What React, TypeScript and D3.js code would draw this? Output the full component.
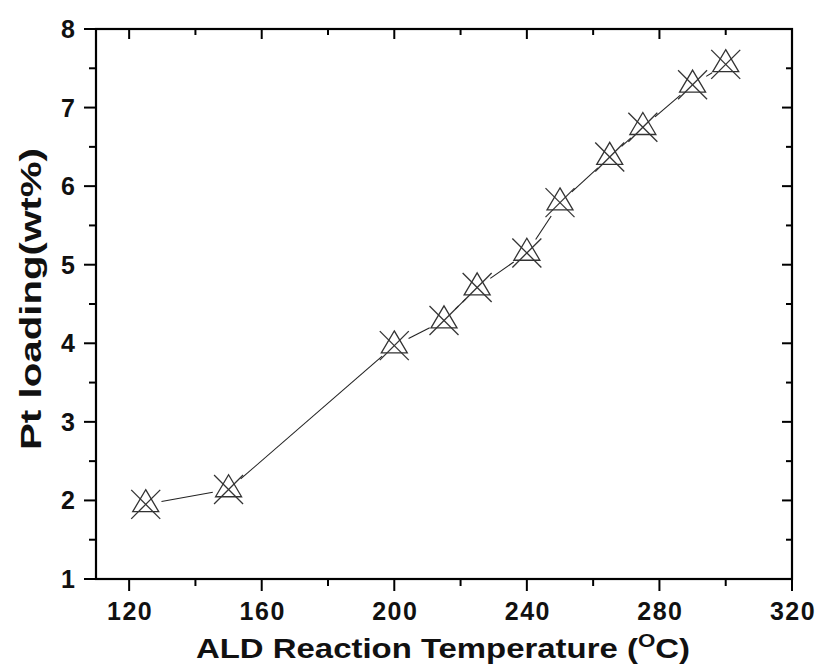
import React from "react";
import * as d3 from "d3";

const temperatures = [125, 150, 200, 215, 225, 240, 250, 265, 275, 290, 300];
const ptLoading = [1.95, 2.14, 3.97, 4.29, 4.71, 5.15, 5.79, 6.37, 6.75, 7.29, 7.55];
const xMajorTicks = [120, 160, 200, 240, 280, 320];
const xMinorTicks = [140, 180, 220, 260, 300];
const yMajorTicks = [1, 2, 3, 4, 5, 6, 7, 8];
const yMinorTicks = [1.5, 2.5, 3.5, 4.5, 5.5, 6.5, 7.5];

const W = 822;
const H = 671;
const L = 96;
const R = 792;
const T = 29;
const B = 579;

const FONT = "'Liberation Sans', Arial, Helvetica, sans-serif";

export default function App() {
  const x = d3.scaleLinear().domain([110, 320]).range([L, R]);
  const y = d3.scaleLinear().domain([1, 8]).range([B, T]);
  const pts = temperatures.map((t, i) => [x(t), y(ptLoading[i])] as [number, number]);

  const gap = 16;
  const segs = pts.slice(1).map((p, i) => {
    const a = pts[i];
    const dx = p[0] - a[0];
    const dy = p[1] - a[1];
    const len = Math.hypot(dx, dy);
    const ux = dx / len;
    const uy = dy / len;
    return [a[0] + ux * gap, a[1] + uy * gap, p[0] - ux * gap, p[1] - uy * gap];
  });

  const tri = d3.line()([
    [0, -14.7],
    [13, 7.3],
    [-13, 7.3],
  ]) + "Z";

  return (
    <svg
      width={W}
      height={H}
      style={{ position: "absolute", left: 0, top: 0, background: "#fff" }}
    >
      <rect x={0} y={0} width={W} height={H} fill="#fff" />
      {segs.map((s, i) => (
        <line key={"s" + i} x1={s[0]} y1={s[1]} x2={s[2]} y2={s[3]} stroke="#222" strokeWidth={1.1} />
      ))}
      {pts.map((p, i) => (
        <g key={"m" + i} transform={`translate(${p[0]},${p[1]})`} fill="none" stroke="#333" strokeWidth={1.3}>
          <path d={tri} />
          <line x1={-14.5} y1={-14.5} x2={14.5} y2={14.5} />
          <line x1={14.5} y1={-14.5} x2={-14.5} y2={14.5} />
        </g>
      ))}
      <rect x={L} y={T} width={R - L} height={B - T} fill="none" stroke="#000" strokeWidth={2.2} />
      {xMajorTicks.map((v) => (
        <g key={"xm" + v}>
          <line x1={x(v)} x2={x(v)} y1={B} y2={B + 12} stroke="#000" strokeWidth={2} />
          <line x1={x(v)} x2={x(v)} y1={T} y2={T + 10} stroke="#000" strokeWidth={2} />
          <text
            x={x(v) + 1}
            y={620}
            textAnchor="middle"
            fontFamily={FONT}
            fontWeight="bold"
            fontSize={25}
            letterSpacing={1.5}
            fill="#111"
          >
            {v}
          </text>
        </g>
      ))}
      {xMinorTicks.map((v) => (
        <g key={"xn" + v}>
          <line x1={x(v)} x2={x(v)} y1={B} y2={B + 7} stroke="#000" strokeWidth={2} />
          <line x1={x(v)} x2={x(v)} y1={T} y2={T + 6} stroke="#000" strokeWidth={2} />
        </g>
      ))}
      {yMajorTicks.map((v) => (
        <g key={"ym" + v}>
          <line x1={L - 12} x2={L} y1={y(v)} y2={y(v)} stroke="#000" strokeWidth={2} />
          <line x1={R - 10} x2={R} y1={y(v)} y2={y(v)} stroke="#000" strokeWidth={2} />
          <text
            x={75}
            y={y(v) + 9}
            textAnchor="end"
            fontFamily={FONT}
            fontWeight="bold"
            fontSize={25}
            fill="#111"
          >
            {v}
          </text>
        </g>
      ))}
      {yMinorTicks.map((v) => (
        <g key={"yn" + v}>
          <line x1={L - 7} x2={L} y1={y(v)} y2={y(v)} stroke="#000" strokeWidth={2} />
          <line x1={R - 6} x2={R} y1={y(v)} y2={y(v)} stroke="#000" strokeWidth={2} />
        </g>
      ))}
      <text
        x={196}
        y={658}
        fontFamily={FONT}
        fontWeight="bold"
        fontSize={28}
        fill="#111"
        textLength={494}
        lengthAdjust="spacingAndGlyphs"
      >
        ALD Reaction Temperature (
        <tspan fontSize={19} dy={-11}>O</tspan>
        <tspan dy={11}>C)</tspan>
      </text>
      <text
        transform={`translate(41,450) rotate(-90)`}
        x={0}
        y={0}
        fontFamily={FONT}
        fontWeight="bold"
        fontSize={29}
        fill="#111"
        textLength={302}
        lengthAdjust="spacingAndGlyphs"
      >
        Pt loading(wt%)
      </text>
    </svg>
  );
}
